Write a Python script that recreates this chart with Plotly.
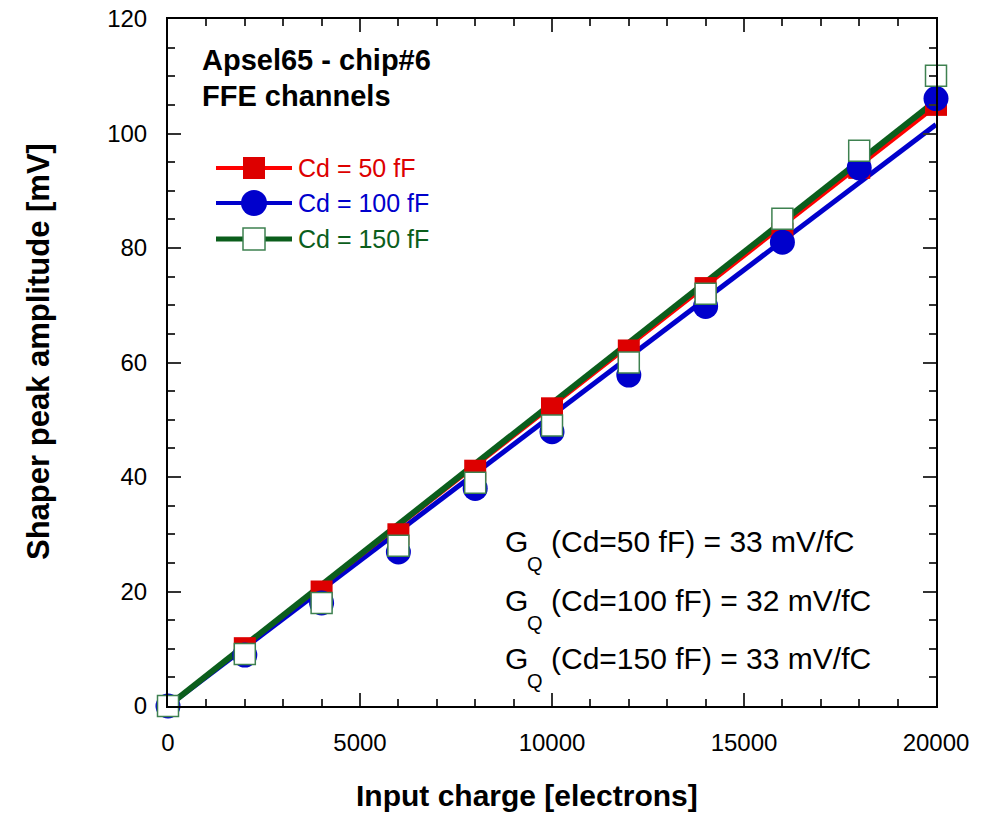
import plotly.graph_objects as go

# ---- data ----
charge_e = [0, 2000, 4000, 6000, 8000, 10000, 12000, 14000, 16000, 18000, 20000]
amp_cd50 = [0, 10.1, 20.0, 30.0, 41.1, 52.0, 62.1, 73.0, 82.5, 94.0, 105.0]
amp_cd100 = [0, 8.9, 18.0, 26.9, 38.0, 47.9, 57.8, 69.8, 81.0, 94.0, 106.1]
amp_cd150 = [0, 9.1, 18.0, 28.0, 39.0, 49.0, 60.0, 72.0, 85.1, 97.0, 110.1]
# fitted gains (mV/fC) used for the straight lines
fit_gain = {"50": 32.7, "100": 31.7, "150": 33.0}
E_CHARGE_FC = 1.602e-4  # fC per electron
fit_x = [0, 20000]

series_names = ["Cd = 50 fF", "Cd = 100 fF", "Cd = 150 fF"]
gq_lines = ["(Cd=50 fF) = 33 mV/fC", "(Cd=100 fF) = 32 mV/fC", "(Cd=150 fF) = 33 mV/fC"]

RED_L, RED_M = "#FF0000", "#DD0000"
BLUE = "#0000CC"
GREEN_L, GREEN_M = "#0B5E1C", "#3E8150"

def fit(g):
    return [g * x * E_CHARGE_FC for x in fit_x]

fig = go.Figure()
# fit lines
fig.add_trace(go.Scatter(x=fit_x, y=fit(fit_gain["100"]), mode="lines",
                         line=dict(color=BLUE, width=5), showlegend=False))
fig.add_trace(go.Scatter(x=fit_x, y=fit(fit_gain["50"]), mode="lines",
                         line=dict(color=RED_L, width=4), showlegend=False))
fig.add_trace(go.Scatter(x=fit_x, y=fit(fit_gain["150"]), mode="lines",
                         line=dict(color=GREEN_L, width=6), showlegend=False))
# markers
fig.add_trace(go.Scatter(x=charge_e, y=amp_cd50, mode="markers", cliponaxis=False,
                         marker=dict(symbol="square", size=22, color=RED_M, line=dict(width=0)),
                         showlegend=False))
fig.add_trace(go.Scatter(x=charge_e, y=amp_cd100, mode="markers", cliponaxis=False,
                         marker=dict(symbol="circle", size=25, color=BLUE, line=dict(width=0)),
                         showlegend=False))
fig.add_trace(go.Scatter(x=charge_e, y=amp_cd150, mode="markers", cliponaxis=False,
                         marker=dict(symbol="square", size=21, color="white",
                                     line=dict(width=1.5, color=GREEN_M)),
                         showlegend=False))

# plot area in page pixels
L, R, T, B = 168, 936, 19, 706
W, H = 992, 813

def px(x):
    return (x - L) / (R - L)

def py(y):
    return (B - y) / (B - T)

shapes = []
annotations = []
# custom legend
leg_y = [168, 203, 239]
leg_cols = [RED_L, BLUE, GREEN_L]
leg_txt_cols = [RED_M, BLUE, GREEN_L]
leg_w = [4, 4, 5]
for i in range(3):
    y = leg_y[i]
    shapes.append(dict(type="line", xref="paper", yref="paper", x0=px(216), x1=px(292),
                       y0=py(y), y1=py(y), line=dict(color=leg_cols[i], width=leg_w[i])))
cx = 254
shapes.append(dict(type="rect", xref="paper", yref="paper", x0=px(cx - 11), x1=px(cx + 11),
                   y0=py(leg_y[0] - 11), y1=py(leg_y[0] + 11), fillcolor=RED_M, line=dict(width=0)))
shapes.append(dict(type="circle", xref="paper", yref="paper", x0=px(cx - 13), x1=px(cx + 13),
                   y0=py(leg_y[1] - 13), y1=py(leg_y[1] + 13), fillcolor=BLUE, line=dict(width=0)))
shapes.append(dict(type="rect", xref="paper", yref="paper", x0=px(cx - 11), x1=px(cx + 11),
                   y0=py(leg_y[2] - 11), y1=py(leg_y[2] + 11), fillcolor="white",
                   line=dict(width=1.5, color=GREEN_M)))
for i in range(3):
    annotations.append(dict(xref="paper", yref="paper", x=px(296), y=py(leg_y[i]),
                            xanchor="left", yanchor="middle", showarrow=False,
                            text=series_names[i],
                            font=dict(family="Arial", size=25, color=leg_txt_cols[i])))

# title text
annotations.append(dict(xref="paper", yref="paper", x=px(200), y=py(60), xanchor="left",
                        yanchor="middle", showarrow=False, text="<b>Apsel65 - chip#6</b>",
                        font=dict(family="Arial", size=29, color="black")))
annotations.append(dict(xref="paper", yref="paper", x=px(200), y=py(96), xanchor="left",
                        yanchor="middle", showarrow=False, text="<b>FFE channels</b>",
                        font=dict(family="Arial", size=29, color="black")))

# gain annotations
gq_y = [541, 600, 658]
for i in range(3):
    y = gq_y[i]
    annotations.append(dict(xref="paper", yref="paper", x=px(503), y=py(y), xanchor="left",
                            yanchor="middle", showarrow=False, text="G",
                            font=dict(family="Arial", size=30, color="black")))
    annotations.append(dict(xref="paper", yref="paper", x=px(525), y=py(y + 23), xanchor="left",
                            yanchor="middle", showarrow=False, text="Q",
                            font=dict(family="Arial", size=20, color="black")))
    annotations.append(dict(xref="paper", yref="paper", x=px(549), y=py(y), xanchor="left",
                            yanchor="middle", showarrow=False, text=gq_lines[i],
                            font=dict(family="Arial", size=30, color="black")))

# axis titles (as annotations for exact placement)
annotations.append(dict(xref="paper", yref="paper", x=px(527), y=py(795), xanchor="center",
                        yanchor="middle", showarrow=False, text="<b>Input charge [electrons]</b>",
                        font=dict(family="Arial", size=30, color="black")))
annotations.append(dict(xref="paper", yref="paper", x=px(38), y=py(352), xanchor="center",
                        yanchor="middle", showarrow=False, textangle=-90,
                        text="<b>Shaper peak amplitude [mV]</b>",
                        font=dict(family="Arial", size=31, color="black")))

axis_common = dict(showgrid=False, zeroline=False, showline=True, linecolor="black",
                   linewidth=2, mirror="ticks", ticks="inside", ticklen=13, tickwidth=1.5,
                   tickcolor="#333333", tickfont=dict(family="Arial", size=24, color="black"),
                   automargin=False)

fig.update_layout(
    width=W, height=H,
    margin=dict(l=L, r=W - R, t=T, b=H - B, autoexpand=False),
    paper_bgcolor="white", plot_bgcolor="white",
    shapes=shapes, annotations=annotations,
    xaxis=dict(range=[0, 20000], tickvals=[0, 5000, 10000, 15000, 20000],
               ticktext=["0", "5000", "10000", "15000", "20000"],
               minor=dict(dtick=1000, ticks="inside", ticklen=7, tickwidth=1.5, tickcolor="#333333"),
               ticklabelstandoff=14, **axis_common),
    yaxis=dict(range=[0, 120], tickvals=[0, 20, 40, 60, 80, 100, 120],
               minor=dict(dtick=5, ticks="inside", ticklen=7, tickwidth=1.5, tickcolor="#333333"),
               ticklabelstandoff=14, **axis_common),
    showlegend=False,
)

fig.write_html("out.html", config={"displayModeBar": False},
               post_script="document.body.style.margin='0';document.body.style.overflow='hidden';")
